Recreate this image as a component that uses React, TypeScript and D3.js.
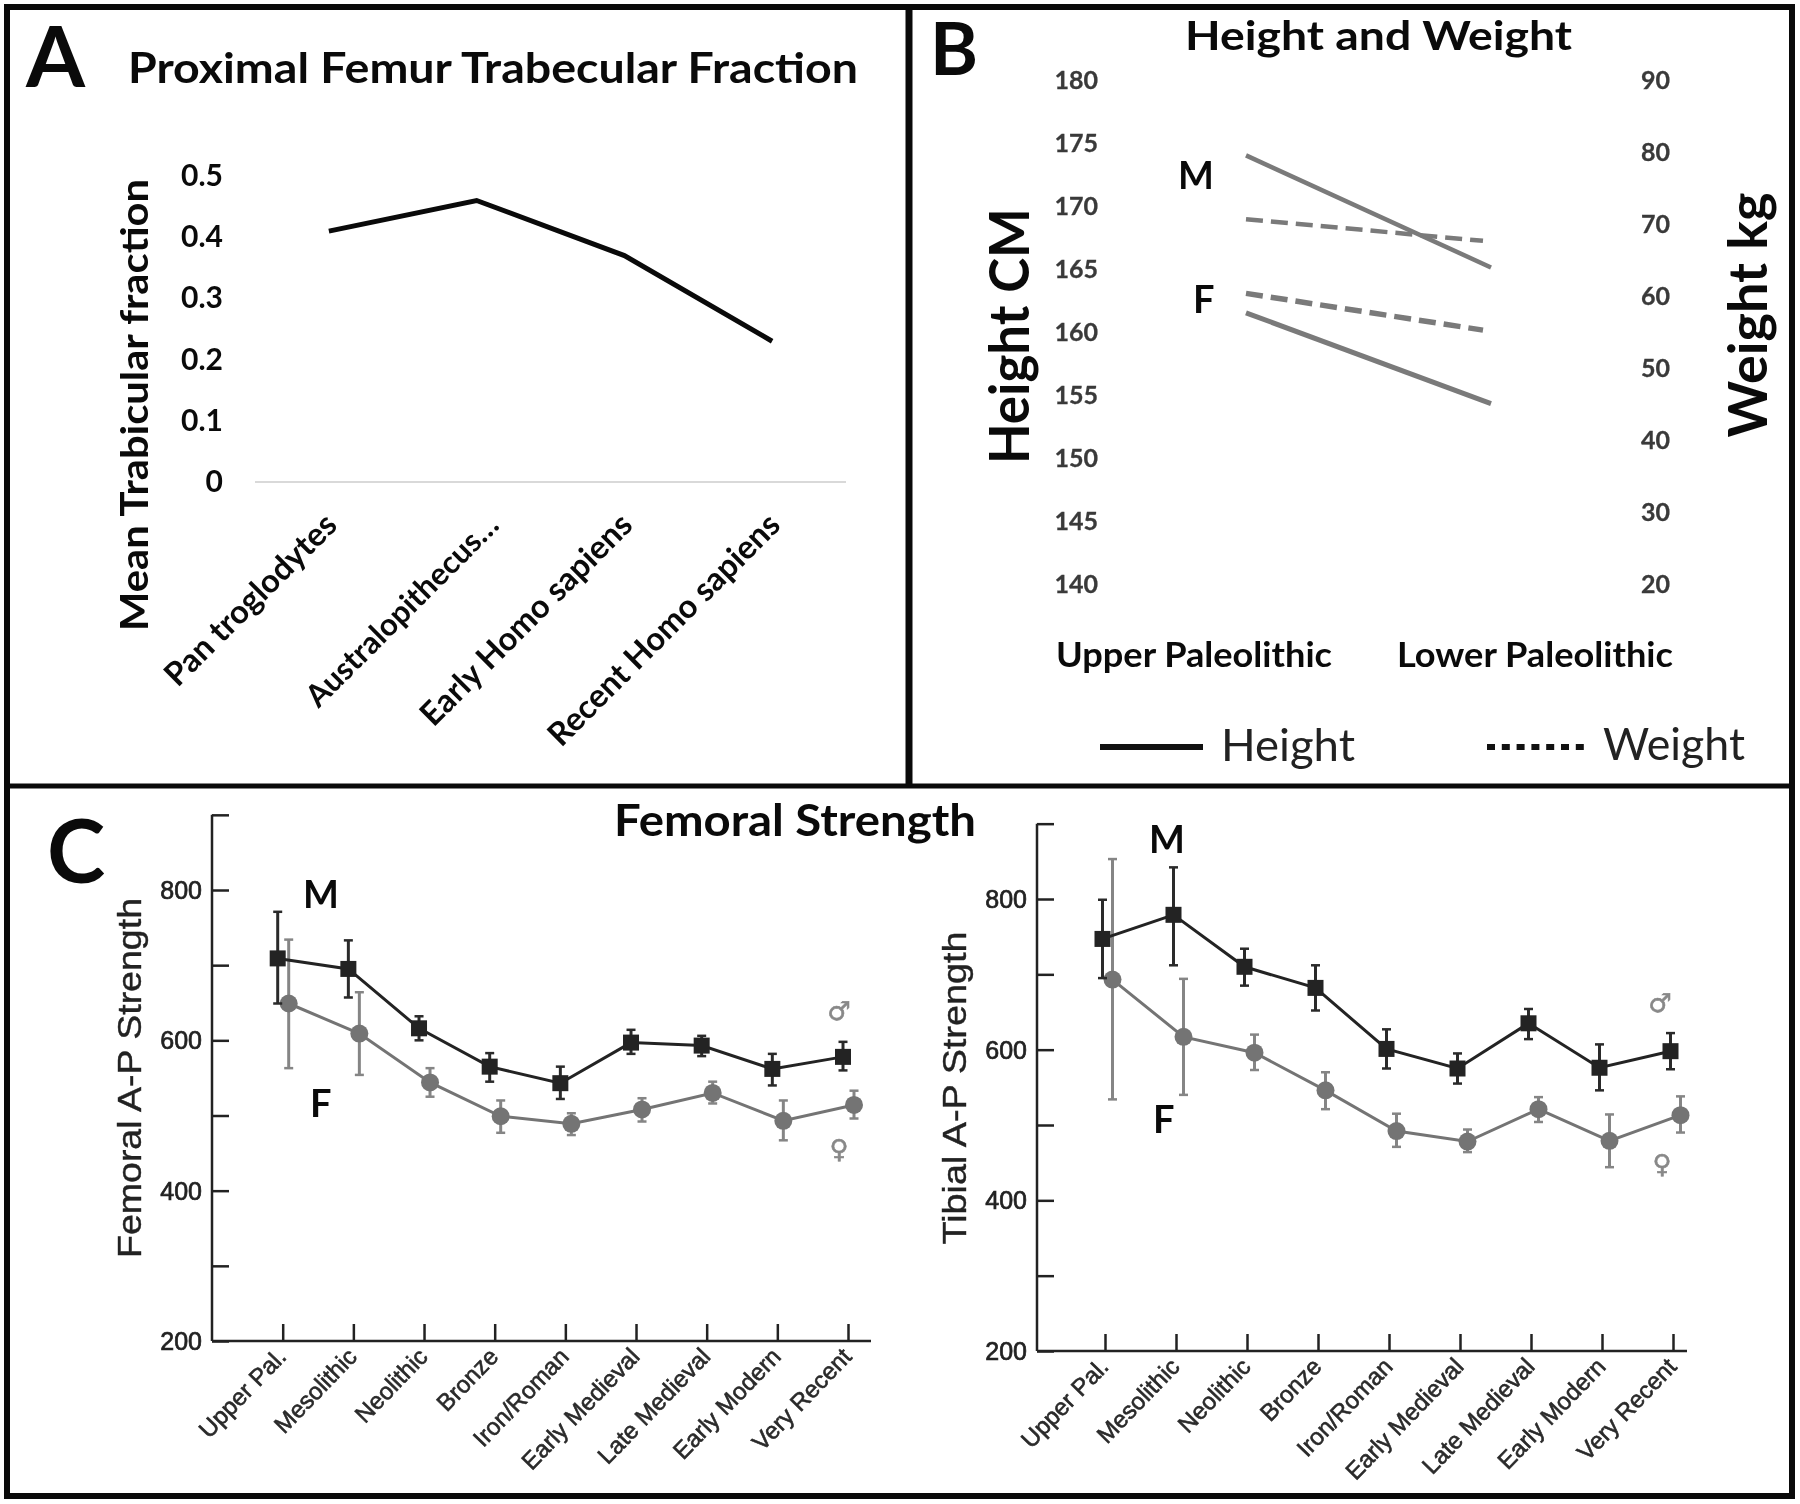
import React, { useEffect, useRef } from 'react';
import * as d3 from 'd3';

const CALIBRI = 'Lato, "Open Sans", sans-serif';
const ARIAL = '"Liberation Sans", Arial, sans-serif';

// Panel A
const fractionCategories = ['Pan troglodytes', 'Australopithecus…', 'Early Homo sapiens', 'Recent Homo sapiens'];
const fractionValues = [0.41, 0.46, 0.37, 0.23];
const fractionTicks = [0, 0.1, 0.2, 0.3, 0.4, 0.5];

// Panel B
const periods = ['Upper Paleolithic', 'Lower Paleolithic'];
const heightTicks = [140, 145, 150, 155, 160, 165, 170, 175, 180];
const weightTicks = [20, 30, 40, 50, 60, 70, 80, 90];
const heightMale = [174.1, 165.2];
const heightFemale = [161.6, 154.4];
const weightMale = [70.8, 67.8];
const weightFemale = [60.5, 55.4];

// Panel C
const eras = ['Upper Pal.', 'Mesolithic', 'Neolithic', 'Bronze', 'Iron/Roman', 'Early Medieval', 'Late Medieval', 'Early Modern', 'Very Recent'];
const strengthTicks = [200, 300, 400, 500, 600, 700, 800, 900];

const femurMale = [709, 695, 616, 565, 543, 597, 593, 562, 578];
const femurMaleLow = [649, 657, 600, 545, 522, 582, 579, 540, 560];
const femurMaleHigh = [771, 733, 632, 583, 565, 614, 606, 582, 598];
const femurFemale = [649, 609, 544, 499, 489, 508, 530, 493, 514];
const femurFemaleLow = [563, 554, 525, 477, 474, 492, 516, 467, 496];
const femurFemaleHigh = [734, 664, 563, 520, 503, 523, 545, 520, 533];

const tibiaMale = [747, 779, 710, 682, 601, 575, 635, 576, 598];
const tibiaMaleLow = [695, 712, 685, 652, 575, 555, 614, 546, 574];
const tibiaMaleHigh = [799, 842, 734, 712, 627, 595, 654, 607, 622];
const tibiaFemale = [693, 617, 596, 546, 492, 478, 521, 479, 513];
const tibiaFemaleLow = [534, 540, 573, 521, 471, 464, 504, 444, 490];
const tibiaFemaleHigh = [853, 694, 620, 570, 515, 494, 537, 514, 538];

type Sel = d3.Selection<any, unknown, null, undefined>;

const label = (
  g: Sel,
  str: string,
  x: number,
  y: number,
  size: number,
  opts: { weight?: string | number; family?: string; fill?: string; anchor?: string; rotate?: number; width?: number; bolden?: number } = {}
) => {
  const t = g
    .append('text')
    .attr('transform', `translate(${x},${y}) rotate(${opts.rotate ?? 0})`)
    .attr('font-family', opts.family ?? CALIBRI)
    .attr('font-weight', opts.weight ?? 700)
    .attr('font-size', size)
    .attr('fill', opts.fill ?? '#0a0a0a')
    .attr('text-anchor', opts.anchor ?? 'start')
    .text(str);
  if (opts.width) t.attr('textLength', opts.width).attr('lengthAdjust', 'spacingAndGlyphs');
  if (opts.bolden) t.attr('stroke', opts.fill ?? '#0a0a0a').attr('stroke-width', opts.bolden);
  return t;
};

const drawFraction = (g: Sel) => {
  const x = d3.scaleBand<string>().domain(fractionCategories).range([255, 846]);
  const y = d3.scaleLinear().domain([0, 0.5]).range([482, 176]);
  const line = d3
    .line<number>()
    .x((_, i) => x(fractionCategories[i])! + x.bandwidth() / 2)
    .y(d => y(d));

  g.append('line')
    .attr('x1', x.range()[0])
    .attr('x2', x.range()[1])
    .attr('y1', y(0))
    .attr('y2', y(0))
    .attr('stroke', '#d9d9d9')
    .attr('stroke-width', 2);

  g.append('path')
    .datum(fractionValues)
    .attr('fill', 'none')
    .attr('stroke', '#0a0a0a')
    .attr('stroke-width', 5)
    .attr('d', line);

  fractionTicks.forEach(t => label(g, String(t), 223, y(t) + 10, 30, { anchor: 'end' }));

  fractionCategories.forEach((c, i) => {
    const cx = x(c)! + x.bandwidth() / 2;
    label(g, c, cx + (i === 1 ? 24 : 10), 527, i === 1 ? 31 : 32.5, { anchor: 'end', rotate: -45 });
  });

  label(g, 'A', 26, 87, 85);
  label(g, 'Proximal Femur Trabecular Fraction', 128, 83, 42, { width: 730 });
  label(g, 'Mean Trabicular fraction', 148, 405, 38, { anchor: 'middle', rotate: -90, width: 452 });
};

const drawHeightWeight = (g: Sel) => {
  const xH = d3.scalePoint<string>().domain(periods).range([1246, 1491]);
  const xW = d3.scalePoint<string>().domain(periods).range([1246, 1483]);
  const xLabel = d3.scalePoint<string>().domain(periods).range([1194, 1535]);
  const yH = d3.scaleLinear().domain([140, 180]).range([585, 81]);
  const yW = d3.scaleLinear().domain([20, 90]).range([585, 81]);

  const series = [
    { values: heightMale, x: xH, y: yH, dash: null, w: 4.5 },
    { values: heightFemale, x: xH, y: yH, dash: null, w: 5 },
    { values: weightMale, x: xW, y: yW, dash: '17 8', w: 4.5 },
    { values: weightFemale, x: xW, y: yW, dash: '17 8', w: 5.5 },
  ];
  series.forEach(s => {
    const line = d3
      .line<number>()
      .x((_, i) => s.x(periods[i])!)
      .y(d => s.y(d));
    g.append('path')
      .datum(s.values)
      .attr('fill', 'none')
      .attr('stroke', '#7a7a7a')
      .attr('stroke-width', s.w)
      .attr('stroke-dasharray', s.dash)
      .attr('d', line);
  });

  heightTicks.forEach(t => label(g, String(t), 1098, yH(t) + 8, 25, { anchor: 'end', fill: '#3a3a3a', bolden: 0.3 }));
  weightTicks.forEach(t => label(g, String(t), 1670, yW(t) + 8, 25, { anchor: 'end', fill: '#3a3a3a', bolden: 0.3 }));
  periods.forEach(p => label(g, p, xLabel(p)!, 667, 34, { anchor: 'middle', width: 276 }));

  label(g, 'B', 930, 75, 73);
  label(g, 'Height and Weight', 1185, 50, 40, { width: 387 });
  label(g, 'M', 1178, 189, 38);
  label(g, 'F', 1193, 313, 38);
  label(g, 'Height CM', 1029, 336, 56, { anchor: 'middle', rotate: -90, width: 256 });
  label(g, 'Weight kg', 1767, 315, 54, { anchor: 'middle', rotate: -90, width: 245 });

  // legend
  g.append('line').attr('x1', 1100).attr('x2', 1203).attr('y1', 747).attr('y2', 747).attr('stroke', '#111').attr('stroke-width', 6);
  g.append('line').attr('x1', 1487).attr('x2', 1585).attr('y1', 747).attr('y2', 747).attr('stroke', '#111').attr('stroke-width', 6).attr('stroke-dasharray', '8 6.8');
  label(g, 'Height', 1221, 761, 44, { weight: 400, fill: '#222', width: 134 });
  label(g, 'Weight', 1603, 760, 44, { weight: 400, fill: '#222', width: 142 });
};

const drawStrength = (
  g: Sel,
  c: {
    xRange: [number, number];
    yRange: [number, number];
    axisX: number;
    axisEnd: number;
    maleShift: number;
    femaleShift: number;
    male: number[];
    maleLow: number[];
    maleHigh: number[];
    female: number[];
    femaleLow: number[];
    femaleHigh: number[];
  }
) => {
  const x = d3.scalePoint<string>().domain(eras).range(c.xRange);
  const y = d3.scaleLinear().domain([200, 800]).range(c.yRange);
  const tickColor = '#222';

  const axisY = g.append('g').attr('transform', `translate(${c.axisX},0)`);
  axisY.call(
    d3
      .axisLeft(y)
      .tickValues(strengthTicks)
      .tickSize(-17)
      .tickFormat(() => '')
  );
  axisY.selectAll('path').remove();
  axisY.selectAll('line').attr('stroke', tickColor).attr('stroke-width', 2.5);
  axisY
    .append('line')
    .attr('y1', y(900))
    .attr('y2', y(200))
    .attr('stroke', tickColor)
    .attr('stroke-width', 2.5);

  const axisX = g.append('g').attr('transform', `translate(0,${y(200)})`);
  axisX.call(
    d3
      .axisBottom(x)
      .tickSize(-17)
      .tickFormat(() => '')
  );
  axisX.selectAll('path').remove();
  axisX.selectAll('line').attr('stroke', tickColor).attr('stroke-width', 2.5);
  axisX
    .append('line')
    .attr('x1', c.axisX)
    .attr('x2', c.axisEnd)
    .attr('stroke', tickColor)
    .attr('stroke-width', 2.5);

  [800, 600, 400, 200].forEach(t =>
    label(g, String(t), c.axisX - 10, y(t) + 9, 25, { family: ARIAL, weight: 400, fill: '#222', anchor: 'end', bolden: 0.7 })
  );
  eras.forEach(e =>
    label(g, e, x(e)! + 5, y(200) + 17, 24, { family: ARIAL, weight: 400, fill: '#2a2a2a', anchor: 'end', rotate: -46, bolden: 0.6 })
  );

  const drawSeries = (values: number[], low: number[], high: number[], dx: number, color: string, barColor: string, square: boolean) => {
    const px = (i: number) => x(eras[i])! + dx;
    const line = d3
      .line<number>()
      .x((_, i) => px(i))
      .y(d => y(d));
    g.append('path').datum(values).attr('fill', 'none').attr('stroke', color).attr('stroke-width', 3).attr('d', line);

    values.forEach((v, i) => {
      const cx = px(i);
      g.append('line').attr('x1', cx).attr('x2', cx).attr('y1', y(low[i])).attr('y2', y(high[i])).attr('stroke', barColor).attr('stroke-width', 3);
      [low[i], high[i]].forEach(e =>
        g.append('line').attr('x1', cx - 4.5).attr('x2', cx + 4.5).attr('y1', y(e)).attr('y2', y(e)).attr('stroke', barColor).attr('stroke-width', 2.5)
      );
      if (square) {
        g.append('rect').attr('x', cx - 8).attr('y', y(v) - 8).attr('width', 16).attr('height', 16).attr('fill', color);
      } else {
        g.append('circle').attr('cx', cx).attr('cy', y(v)).attr('r', 9).attr('fill', color);
      }
    });
  };

  drawSeries(c.female, c.femaleLow, c.femaleHigh, c.femaleShift, '#747474', '#858585', false);
  drawSeries(c.male, c.maleLow, c.maleHigh, c.maleShift, '#232323', '#2a2a2a', true);
};

const drawPanelC = (g: Sel) => {
  drawStrength(g, {
    xRange: [282.7, 848],
    yRange: [1341, 890],
    axisX: 212,
    axisEnd: 871,
    maleShift: -5,
    femaleShift: 6,
    male: femurMale,
    maleLow: femurMaleLow,
    maleHigh: femurMaleHigh,
    female: femurFemale,
    femaleLow: femurFemaleLow,
    femaleHigh: femurFemaleHigh,
  });
  drawStrength(g, {
    xRange: [1105, 1673],
    yRange: [1351, 899],
    axisX: 1037,
    axisEnd: 1687,
    maleShift: -2.5,
    femaleShift: 7.5,
    male: tibiaMale,
    maleLow: tibiaMaleLow,
    maleHigh: tibiaMaleHigh,
    female: tibiaFemale,
    femaleLow: tibiaFemaleLow,
    femaleHigh: tibiaFemaleHigh,
  });

  label(g, 'C', 47, 883, 88);
  label(g, 'Femoral Strength', 614, 836, 44, { width: 362 });
  label(g, 'Femoral A-P Strength', 141, 1078, 34, { family: ARIAL, weight: 400, fill: '#222', anchor: 'middle', rotate: -90, width: 360, bolden: 0.4 });
  label(g, 'Tibial A-P Strength', 966, 1088, 34, { family: ARIAL, weight: 400, fill: '#222', anchor: 'middle', rotate: -90, width: 313, bolden: 0.4 });
  label(g, 'M', 303, 908, 38);
  label(g, 'F', 310, 1117, 38);
  label(g, 'M', 1149, 853, 38);
  label(g, 'F', 1153, 1133, 38);

  const gender = { family: '"DejaVu Sans", sans-serif', weight: 400, fill: '#888', anchor: 'middle', bolden: 0.6 };
  label(g, '♂', 839, 1020, 26, gender);
  label(g, '♀', 839, 1158, 26, gender);
  label(g, '♂', 1660, 1012, 26, gender);
  label(g, '♀', 1662, 1173, 26, gender);
};

const App = () => {
  const ref = useRef<SVGSVGElement>(null);

  useEffect(() => {
    const svg = d3.select(ref.current);
    svg.selectAll('*').remove();

    svg.append('rect').attr('width', 1800).attr('height', 1504).attr('fill', '#fff');

    drawFraction(svg as any);
    drawHeightWeight(svg as any);
    drawPanelC(svg as any);

    // panel frames
    svg.append('rect').attr('x', 7).attr('y', 7).attr('width', 1785).attr('height', 1489).attr('fill', 'none').attr('stroke', '#0a0a0a').attr('stroke-width', 6);
    svg.append('line').attr('x1', 909).attr('x2', 909).attr('y1', 7).attr('y2', 786).attr('stroke', '#0a0a0a').attr('stroke-width', 7);
    svg.append('line').attr('x1', 7).attr('x2', 1792).attr('y1', 786).attr('y2', 786).attr('stroke', '#0a0a0a').attr('stroke-width', 5);
  }, []);

  return (
    <svg
      ref={ref}
      width={1800}
      height={1504}
      viewBox="0 0 1800 1504"
      style={{ position: 'absolute', left: 0, top: 0, display: 'block', filter: 'blur(0.6px)' }}
    />
  );
};

export default App;
